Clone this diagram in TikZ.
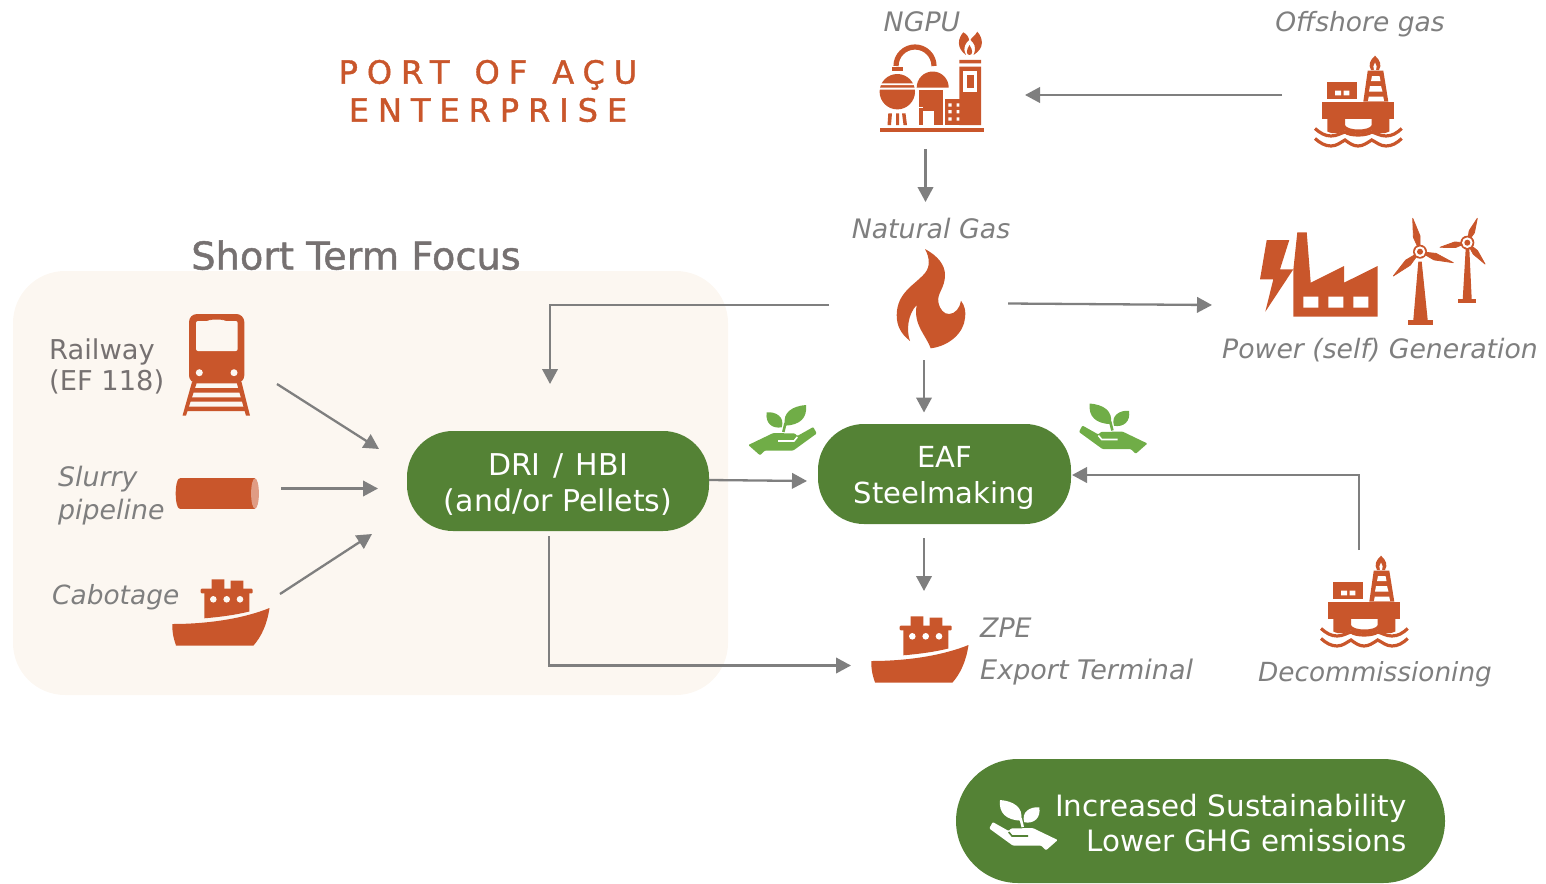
\documentclass[tikz,border=0pt]{standalone}
\usepackage{fontspec}
\setmainfont{DejaVu Sans}
\newfontfamily\titlefont[LetterSpace=28,FakeBold=1.2]{DejaVu Sans}
\newfontfamily\focusfont[FakeBold=1.2]{DejaVu Sans}
\usetikzlibrary{calc,arrows.meta}
\definecolor{rust}{HTML}{C9562B}
\definecolor{rustlight}{HTML}{E09C84}
\definecolor{pillgreen}{HTML}{548235}
\definecolor{leafgreen}{HTML}{70AD47}
\definecolor{panelbg}{HTML}{FCF7F1}
\definecolor{flowgrey}{HTML}{7F7F7F}
\definecolor{labelgrey}{HTML}{767171}
\tikzset{
  flow/.style={draw=flowgrey,line width=2.3pt,-{Triangle[length=15pt,width=15.5pt]}},
  pill/.style={fill=pillgreen,text=white,rounded corners=46pt,inner sep=0pt,align=center,font=\fontsize{29}{35.5}\selectfont},
  flowlabel/.style={text=flowgrey,inner sep=0pt,font=\fontsize{26.8}{33}\selectfont\itshape},
  plainlabel/.style={text=labelgrey,inner sep=0pt,font=\fontsize{27.3}{31}\selectfont},
  icon/.style={fill=rust,draw=none},
  gap/.style={fill=white,draw=none}
}
\newcommand{\iconShip}{%
  \fill[icon] (172.3,624) .. controls (210,624) and (245,618) .. (269.5,608) .. controls (267,625) and (261,637) .. (253.5,645.5) -- (176,645.5) .. controls (173,637) and (172,630) .. (172.3,624) -- cycle;
  \fill[icon] (204.3,593) -- (249.3,593) -- (249.3,611.5) .. controls (235,615) and (220,617) .. (204.3,618.3) -- cycle;
  \fill[icon,rounded corners=1pt] (200.7,588.7) rectangle (252.7,593.3);
  \fill[icon] (211.7,579.3) rectangle (224.3,589) (230.7,580.5) rectangle (243.3,589);
  \fill[panelbg] (213.3,599.3) circle[radius=3.3pt] (226.7,599.3) circle[radius=3.3pt] (240,599.3) circle[radius=3.3pt];
}
\newcommand{\iconPlatform}{%
  \fill[icon] (1375,55.7) .. controls (1370,60) and (1368,65) .. (1371,70) -- (1379,70) .. controls (1382,65) and (1380,60) .. (1375,55.7) -- cycle;
  \fill[white] (1375,62.5) .. controls (1373,65) and (1373,68) .. (1374,70) -- (1376,70) .. controls (1377,68) and (1377,65) .. (1375,62.5) -- cycle;
  \fill[icon] (1367.7,70.7) -- (1383.3,70.7) -- (1388.3,101.7) -- (1363.3,101.7) -- cycle;
  \fill[gap] (1372,76) -- (1379.5,76) -- (1380.5,81) -- (1371,81) -- cycle
             (1370,86) -- (1381,86) -- (1382.5,91.7) -- (1369,91.7) -- cycle
             (1368.7,96.7) -- (1383.3,96.7) -- (1384,101) -- (1368,101) -- cycle;
  \fill[icon] (1327.3,82.3) rectangle (1357.3,99.3);
  \fill[gap] (1335,90.7) rectangle (1341,95.3) (1343.7,90.7) rectangle (1349.3,95.3);
  \fill[icon] (1322.3,101.7) rectangle (1394,119.3);
  \fill[icon] (1327.3,119) -- (1345,119) -- (1345,125) .. controls (1347,131) and (1370,131) .. (1371.7,125) -- (1371.7,119) -- (1389.3,119) -- (1389.3,131.5) .. controls (1382,135) and (1376,133) .. (1371.7,130.5) .. controls (1365,135) and (1351,135) .. (1345,130.5) .. controls (1340,133) and (1334,135) .. (1327.3,131.5) -- cycle;
  \draw[rust,line width=3.2pt] (1315,128.5) .. controls (1320,133) and (1325,136) .. (1331,136) .. controls (1337,136) and (1341,133) .. (1345,132) .. controls (1350,136) and (1366,136) .. (1371.7,132) .. controls (1376,133) and (1380,136) .. (1386,136) .. controls (1392,136) and (1397,133) .. (1401.7,128.5);
  \draw[rust,line width=3.2pt] (1315,138.5) .. controls (1320,143) and (1325,146) .. (1331,146) .. controls (1337,146) and (1341,142) .. (1345,140) .. controls (1349,143) and (1353,146) .. (1358,146) .. controls (1363,146) and (1367,143) .. (1371.7,140) .. controls (1376,142) and (1380,146) .. (1386,146) .. controls (1392,146) and (1397,143) .. (1401.7,138.5);
}
\newcommand{\iconPlant}[2]{%
  \fill[#1,rounded corners=1pt] (748.3,445) -- (760,455.3) -- (765,450.5) -- (793.3,450.5) -- (816.7,433.5) -- (813.3,427) -- (797.3,436) -- (795,433.5) -- (773.3,433) -- cycle;
  \draw[#2,line width=1.6pt] (778,441) -- (794,441) -- (797.3,437);
  \fill[#1] (785,425.7) .. controls (782,412) and (793,406) .. (806,405) .. controls (807.5,418) and (800,425) .. (785,425.7) -- cycle;
  \fill[#1] (781.7,427.3) .. controls (785,417) and (776,411.5) .. (766.7,412.3) .. controls (765,423) and (772,429) .. (781.7,427.3) -- cycle;
  \draw[#1,line width=2.6pt] (783.3,432) -- (785.5,423);
}
\newcommand{\iconBlade}[3]{%
  \fill[icon,line join=round,draw=rust,line width=.8pt] (#1) -- ($(#1)!.45!(#2)!#3!90:(#2)$) -- (#2) -- ($(#1)!.45!(#2)!#3!-90:(#2)$) -- cycle;
}
\newcommand{\iconHub}[1]{%
  \fill[rust] (#1) circle[radius=7pt];
  \fill[white] (#1) circle[radius=5.3pt];
  \fill[rust] (#1) circle[radius=3pt];
}
\begin{document}
\begin{tikzpicture}[x=1pt,y=-1pt]
\useasboundingbox (0,0) rectangle (1546,883);
% panel
\fill[panelbg,rounded corners=52pt] (13,271) rectangle (728,695);
% title
\node[text=rust,inner sep=0pt,align=center,font=\titlefont\fontsize{32}{38}\selectfont] (title) at (488,91) {PORT\hspace{6pt} OF\hspace{6pt} AÇU\\ENTERPRISE};
\node[text=labelgrey,inner sep=0pt,font=\focusfont\fontsize{38.3}{42}\selectfont,anchor=base] (focus) at (356,269.5) {Short Term Focus};
% pills
\node[pill,font=\fontsize{30}{36}\selectfont,minimum width=302pt,minimum height=100pt] (dri) at (558,481) {\rule{0pt}{29pt}DRI\hspace{3pt} / \hspace{3pt}HBI\\(and/or Pellets)};
\node[pill,minimum width=253pt,minimum height=100pt] (eaf) at (944.5,474) {\rule{0pt}{29pt}EAF\\Steelmaking};
\fill[pillgreen,rounded corners=62pt] (956,759) rectangle (1445,883);
\node[text=white,inner sep=0pt,align=right,anchor=east,font=\fontsize{29.4}{35.5}\selectfont] (sust) at (1407,823) {Increased Sustainability\\Lower GHG emissions};
% labels
\node[flowlabel,anchor=base] (ngpu) at (922,32) {NGPU};
\node[flowlabel,anchor=base,font=\fontsize{26.5}{33}\selectfont\itshape] (offshore) at (1360,32) {Offshore gas};
\node[flowlabel,anchor=base] (natgas) at (931,238) {Natural Gas};
\node[flowlabel,anchor=base,font=\fontsize{26.7}{33}\selectfont\itshape] (power) at (1380,358) {Power (self) Generation};
\node[plainlabel,align=left,anchor=west] (rail) at (49,366.5) {Railway\\(EF 118)};
\node[flowlabel,align=left,anchor=west] (slurry) at (58,496) {Slurry\\pipeline};
\node[flowlabel,anchor=base west,font=\fontsize{26.4}{33}\selectfont\itshape] (cabo) at (52,604.5) {Cabotage};
\node[flowlabel,anchor=base west] (zpe) at (980,637) {ZPE};
\node[flowlabel,anchor=base west,font=\fontsize{27}{33}\selectfont\itshape] (export) at (980,679) {Export Terminal};
\node[flowlabel,anchor=base,font=\fontsize{26.3}{33}\selectfont\itshape] (decom) at (1375,681) {Decommissioning};
% NGPU icon
\fill[icon] (880,127.7) rectangle (984.3,131.7);
\draw[rust,line width=5.2pt] (896,66) arc[start angle=180,end angle=0,radius=19pt];
\fill[icon] (892.3,67.3) rectangle (903.3,71);
\fill[icon] (897.3,91.7) circle[radius=17.7pt];
\fill[gap] (878,83.3) rectangle (917,85) (878,87.5) rectangle (917,89.5);
\fill[icon] (888.3,113.3) -- (892,113.3) -- (891,125) -- (887.5,125) -- cycle
            (896,113.3) -- (899,113.3) -- (899,125) -- (896,125) -- cycle
            (902,113.3) -- (905.5,113.3) -- (907,125) -- (903.5,125) -- cycle;
\fill[icon] (916.7,87.5) arc[start angle=180,end angle=0,radius=16pt] -- cycle;
\fill[icon] (919.3,90) rectangle (943.3,125);
\fill[gap] (923.3,110.7) rectangle (934,125);
\fill[gap] (919.3,106.7) rectangle (923.3,108);
\fill[gap] (943.3,97) rectangle (965,125);
\fill[icon] (945,99.3) rectangle (963.3,125);
\fill[gap] (948.3,103.3) rectangle (951.7,106.7) (956.7,103.3) rectangle (960,106.7)
           (948.3,110) rectangle (951.7,113.3) (956.7,110) rectangle (960,113.3)
           (948.3,117.3) rectangle (951.7,120.7) (956.7,117.3) rectangle (960,120.7);
\fill[icon] (959.3,66.7) rectangle (981,125) (959.3,60) rectangle (981,63.3);
\fill[gap] (962.7,71) rectangle (977.3,91.7);
\fill[icon] (966.7,75) rectangle (974,88.3);
\fill[icon] (963.3,32.3) .. controls (958,38) and (956,48) .. (966,55) .. controls (962,47) and (966,43) .. (969,40) .. controls (969,38) and (967,34) .. (963.3,32.3) -- cycle;
\fill[icon] (977.3,31.7) .. controls (983,38) and (985,48) .. (973.5,55) .. controls (977,47) and (974,43) .. (970.5,40) .. controls (971,38) and (975,36) .. (977.3,31.7) -- cycle;
\fill[icon] (969.5,45) .. controls (966,50) and (966,55) .. (969.5,55) .. controls (973,55) and (973,50) .. (969.5,45) -- cycle;
% platforms
\iconPlatform
\begin{scope}[shift={(6,500)}]\iconPlatform\end{scope}
% flame
\fill[icon] (925,249) .. controls (938,256) and (945,265) .. (945,275) .. controls (945,288) and (937,293) .. (938.3,302) .. controls (940,310) and (944,314) .. (949,314) .. controls (955,314) and (960,308) .. (961,300.7) .. controls (965,306) and (966,312) .. (965,318) .. controls (964,332) and (950,346) .. (930.7,348.3) .. controls (926,335) and (913,325) .. (916.7,305) .. controls (908,314) and (906,330) .. (910,341) .. controls (900,333) and (896.7,325) .. (896.7,315) .. controls (897,292) and (915,285) .. (925,273) .. controls (930,267) and (930,258) .. (925,249) -- cycle;
% power
\fill[icon] (1266.7,240) -- (1289.3,240) -- (1280,269.3) -- (1293.3,269.3) -- (1265.3,311.7) -- (1273.3,279.3) -- (1260,279.3) -- cycle;
\fill[icon] (1293.3,316.7) -- (1293.3,270) -- (1297.3,232.3) -- (1306.7,232.3) -- (1310.7,282.7) -- (1344,266) -- (1344,282.7) -- (1377.7,266) -- (1377.7,316.7) -- cycle;
\fill[gap] (1303.3,296.7) rectangle (1318.3,307.7) (1328.3,296.7) rectangle (1343.3,307.7) (1353.3,296.7) rectangle (1368.3,307.7);
\fill[icon] (1418.3,261.7) -- (1421.7,261.7) -- (1427.7,320) -- (1413.3,320) -- cycle;
\fill[icon] (1408.3,320) rectangle (1432.7,325);
\iconBlade{1420,251.7}{1412.7,218.3}{3.4pt}
\iconBlade{1420,251.7}{1453.3,262.7}{3.4pt}
\iconBlade{1420,251.7}{1393.3,276}{3.4pt}
\iconHub{1420,251.7}
\fill[icon] (1465.7,248.3) -- (1469.3,248.3) -- (1471.7,299.3) -- (1462.7,299.3) -- cycle;
\fill[icon] (1458.3,299.3) rectangle (1476,302.7);
\iconBlade{1467.3,242.7}{1477.3,218.3}{2.8pt}
\iconBlade{1467.3,242.7}{1485,264}{2.8pt}
\iconBlade{1467.3,242.7}{1440,247.3}{2.8pt}
\iconHub{1467.3,242.7}
% train
\fill[icon,rounded corners=8pt] (189,314) rectangle (244.3,383.3);
\fill[panelbg,rounded corners=2pt] (196,321) -- (209,321) -- (211,319.5) -- (222,319.5) -- (224,321) -- (237.7,321) -- (237.7,351) -- (196,351) -- cycle;
\fill[panelbg] (199.3,372.7) circle[radius=3.5pt] (234,372.7) circle[radius=3.5pt];
\fill[icon] (192,382) -- (197,382) -- (186,415.7) -- (182.5,415.7) -- cycle;
\fill[icon] (236.5,382) -- (241.5,382) -- (250,415.7) -- (246,415.7) -- cycle;
\fill[icon] (191,388) rectangle (242,392.7) (189,397.3) rectangle (244,401.7) (186,406.7) rectangle (247,411);
% pipe
\fill[icon] (179.5,493.5) ellipse[x radius=3.8pt,y radius=15.2pt];
\fill[icon] (179.5,478.3) rectangle (255,508.7);
\fill[rustlight] (255,493.5) ellipse[x radius=3.9pt,y radius=15.2pt];
% cabotage ship and ZPE ship
\iconShip
\begin{scope}[shift={(699,37)}]\colorlet{panelbg}{white}\iconShip\end{scope}
% plants
\iconPlant{leafgreen}{white}
\begin{scope}[shift={(1895.7,-1.5)},xscale=-1]\iconPlant{leafgreen}{white}\end{scope}
\begin{scope}[shift={(1806,395)},xscale=-1]\iconPlant{white}{pillgreen}\end{scope}
% connector ends
\coordinate (offshore-out) at (1282,95);
\coordinate (ngpu-in) at (1025,95);
\coordinate (ngpu-out) at (925.5,149);
\coordinate (natgas-in) at (925.5,202);
\coordinate (natgas-right) at (1008,303.5);
\coordinate (power-in) at (1212,305);
\coordinate (natgas-left) at (829,305);
\coordinate (dri-top) at (550,384);
\coordinate (natgas-down) at (924,360);
\coordinate (eaf-top) at (924,412.5);
\coordinate (rail-out) at (277,384);
\coordinate (rail-in) at (379,449);
\coordinate (slurry-out) at (281,488.5);
\coordinate (slurry-in) at (378,488.5);
\coordinate (cabo-out) at (280,594);
\coordinate (cabo-in) at (372,534);
\coordinate (eaf-left) at (807,481);
\coordinate (dri-down) at (549,536);
\coordinate (zpe-left) at (851,665.5);
\coordinate (eaf-down) at (924,538);
\coordinate (zpe-top) at (924,591);
\coordinate (decom-out) at (1359,550);
\coordinate (eaf-right) at (1072,475);
% connectors
\draw[flow] (offshore-out) -- (ngpu-in);
\draw[flow] (ngpu-out) -- (natgas-in);
\draw[flow] (natgas-right) -- (power-in);
\draw[flow] (natgas-left) -| (dri-top);
\draw[flow] (natgas-down) -- (eaf-top);
\draw[flow] (rail-out) -- (rail-in);
\draw[flow] (slurry-out) -- (slurry-in);
\draw[flow] (cabo-out) -- (cabo-in);
\draw[flow] (dri.east |- 0,480) -- (eaf-left);
\draw[flow] (dri-down) |- (zpe-left);
\draw[flow] (eaf-down) -- (zpe-top);
\draw[flow] (decom-out) |- (eaf-right);
\end{tikzpicture}
\end{document}
